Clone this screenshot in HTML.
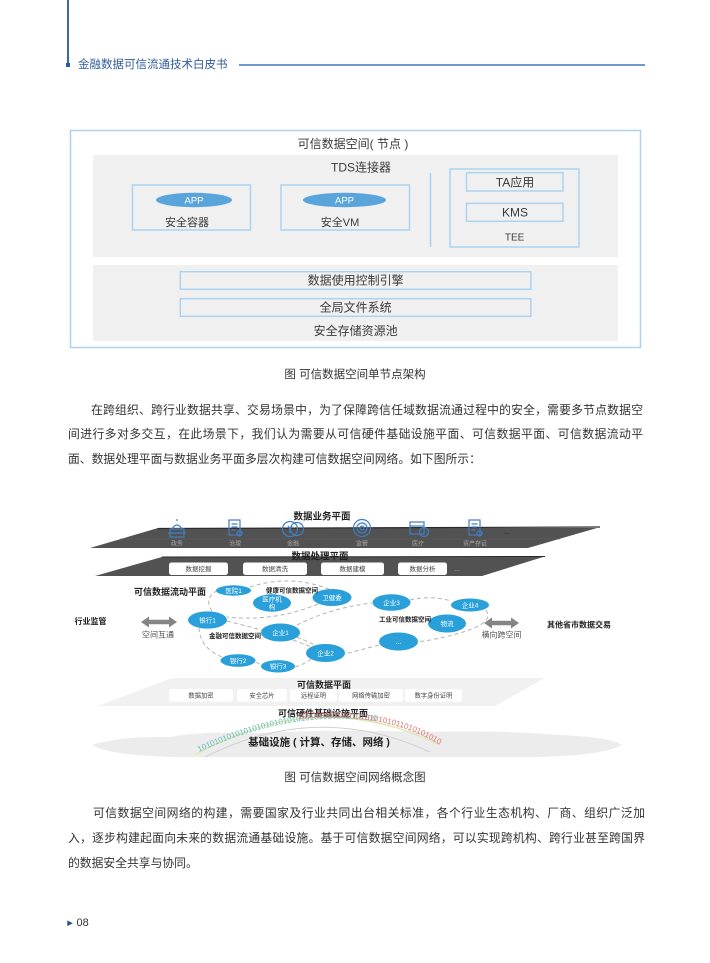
<!DOCTYPE html>
<html><head><meta charset="utf-8"><style>
html,body{margin:0;padding:0;background:#fff;}
body{width:710px;height:963px;position:relative;overflow:hidden;font-family:"Liberation Sans","Noto Sans CJK SC",sans-serif;color:#333;}
.a{position:absolute;white-space:nowrap;}
.ln{position:absolute;height:16px;line-height:16px;font-size:11.8px;color:#333;text-align:justify;text-align-last:justify;white-space:nowrap;}
.cap{position:absolute;left:0;width:710px;text-align:center;font-size:11.5px;line-height:14px;color:#333;}
svg{position:absolute;left:0;top:0;}
</style></head><body>

<!-- header -->
<div class="a" style="left:67px;top:0;width:1.5px;height:64px;background:#3d69a6;"></div>
<div class="a" style="left:65.5px;top:63px;width:4px;height:4px;background:#1f5ea8;"></div>
<div class="a" style="left:78px;top:58px;font-size:11.5px;line-height:14px;color:#2f5c9c;">金融数据可信流通技术白皮书</div>
<div class="a" style="left:239px;top:63.8px;width:406px;height:2px;background:#6c9acb;"></div>

<svg width="710" height="963" viewBox="0 0 710 963" font-family="Liberation Sans, Noto Sans CJK SC, sans-serif">
<!-- ===== top diagram ===== -->
<rect x="70.5" y="130.5" width="570" height="217" fill="#fff" stroke="#abd3ef" stroke-width="1.5"/>
<rect x="93" y="155" width="525" height="102" fill="#f0f0f0"/>
<rect x="93" y="265" width="525" height="76" fill="#f0f0f0"/>
<text x="353" y="148" font-size="12" fill="#3a3a3a" text-anchor="middle">可信数据空间( 节点 )</text>
<text x="361" y="171.5" font-size="12" fill="#3a3a3a" text-anchor="middle">TDS连接器</text>
<rect x="132.5" y="185" width="118" height="45" fill="none" stroke="#abd3ef" stroke-width="1.5"/>
<rect x="281" y="185" width="128.5" height="45" fill="none" stroke="#abd3ef" stroke-width="1.5"/>
<ellipse cx="194" cy="200" rx="38" ry="7.2" fill="#5aa4dc"/>
<ellipse cx="344.5" cy="200" rx="41.5" ry="7.2" fill="#5aa4dc"/>
<text x="194" y="203.6" font-size="9.5" fill="#fff" text-anchor="middle">APP</text>
<text x="344.5" y="203.6" font-size="9.5" fill="#fff" text-anchor="middle">APP</text>
<text x="187" y="225.8" font-size="11" fill="#3a3a3a" text-anchor="middle">安全容器</text>
<text x="340" y="225.8" font-size="11" fill="#3a3a3a" text-anchor="middle">安全VM</text>
<line x1="430.5" y1="173" x2="430.5" y2="247" stroke="#abd3ef" stroke-width="1.5"/>
<rect x="450" y="169" width="129" height="78" fill="none" stroke="#abd3ef" stroke-width="1.5"/>
<rect x="466.5" y="172.7" width="96.5" height="18.3" fill="none" stroke="#abd3ef" stroke-width="1.5"/>
<rect x="466.5" y="203.3" width="96.5" height="18" fill="none" stroke="#abd3ef" stroke-width="1.5"/>
<text x="515" y="186.3" font-size="12" fill="#3a3a3a" text-anchor="middle">TA应用</text>
<text x="515" y="216.6" font-size="12" fill="#3a3a3a" text-anchor="middle">KMS</text>
<text x="514.6" y="240.5" font-size="10" fill="#3a3a3a" text-anchor="middle">TEE</text>
<rect x="180.3" y="271.7" width="350.6" height="17.6" fill="none" stroke="#abd3ef" stroke-width="1.5"/>
<rect x="180.3" y="298.7" width="350.6" height="17.6" fill="none" stroke="#abd3ef" stroke-width="1.5"/>
<text x="355.6" y="284.6" font-size="12" fill="#3a3a3a" text-anchor="middle">数据使用控制引擎</text>
<text x="355.6" y="311.6" font-size="12" fill="#3a3a3a" text-anchor="middle">全局文件系统</text>
<text x="355.6" y="335.2" font-size="12" fill="#3a3a3a" text-anchor="middle">安全存储资源池</text>

<!-- ===== network diagram ===== -->
<!-- business plane -->
<polygon points="90,548 158,528 597,528 528,548" fill="#525252"/>
<line x1="158" y1="528.5" x2="600" y2="527" stroke="#2a2a2a" stroke-width="1.2"/>
<line x1="120" y1="539" x2="560" y2="539" stroke="#5e5e5e" stroke-width="0.6"/>
<text x="322" y="519.3" font-size="9.5" font-weight="bold" fill="#222" text-anchor="middle">数据业务平面</text>
<g fill="none" stroke="#3f7fc2" stroke-width="1.2">
 <path d="M170,537 v-8 h14 v8 z M172,529 q5,-8 10,0 M177,521 v-2"/>
 <path d="M168,533 h18"/>
 <rect x="229" y="520" width="11" height="15"/><path d="M231.5,524 h6 M231.5,527 h6 M231.5,530 h4"/><circle cx="239.5" cy="533.5" r="2.5"/>
 <circle cx="290" cy="529" r="7.5"/><circle cx="297" cy="529" r="6.5"/><path d="M288,526 l2,3 l2,-3 M290,529 v4"/>
 <circle cx="362" cy="528" r="8.5"/><circle cx="362" cy="528" r="5"/><circle cx="362" cy="528" r="2"/>
 <rect x="410" y="522" width="14" height="12"/><path d="M410,526 h14"/><circle cx="424" cy="532" r="4.5"/>
 <rect x="469" y="520" width="11" height="15"/><path d="M471.5,524 h6 M471.5,527 h6 M471.5,530 h4"/><circle cx="479.5" cy="533.5" r="2.5"/>
</g>
<g font-size="6" fill="#a8a8a8" text-anchor="middle">
 <text x="177" y="545.5">政务</text><text x="235" y="545.5">治理</text><text x="293" y="545.5">金融</text>
 <text x="362" y="545.5">监管</text><text x="418" y="545.5">医疗</text><text x="475" y="545.5">资产存证</text>
</g>
<text x="507" y="534" font-size="7" fill="#222" text-anchor="middle">...</text>

<!-- processing plane -->
<polygon points="95,576 162,557 543,557 482,576" fill="#525252"/>
<line x1="162" y1="557" x2="545" y2="556.5" stroke="#2a2a2a" stroke-width="1"/>
<text x="320" y="559.5" font-size="9.5" font-weight="bold" fill="#222" text-anchor="middle">数据处理平面</text>
<g fill="#fff">
 <rect x="169" y="562.5" width="59" height="12.5" rx="2.5"/>
 <rect x="243" y="562.5" width="64" height="12.5" rx="2.5"/>
 <rect x="321" y="562.5" width="63" height="12.5" rx="2.5"/>
 <rect x="398" y="562.5" width="49" height="12.5" rx="2.5"/>
</g>
<g font-size="6.5" fill="#444" text-anchor="middle">
 <text x="198.5" y="571.2">数据挖掘</text><text x="275" y="571.2">数据清洗</text>
 <text x="352.5" y="571.2">数据建模</text><text x="422.5" y="571.2">数据分析</text>
</g>
<text x="457" y="571" font-size="7" fill="#bbb" text-anchor="middle">...</text>

<!-- flow plane -->
<text x="170" y="595" font-size="9" font-weight="bold" fill="#222" text-anchor="middle">可信数据流动平面</text>
<text x="90.5" y="623.8" font-size="8" font-weight="bold" fill="#222" text-anchor="middle">行业监管</text>
<text x="158" y="637.3" font-size="8" fill="#555" text-anchor="middle">空间互通</text>
<text x="501.5" y="637.3" font-size="8" fill="#555" text-anchor="middle">横向跨空间</text>
<text x="579" y="627.3" font-size="8" font-weight="bold" fill="#222" text-anchor="middle">其他省市数据交易</text>
<g fill="#858585">
 <polygon points="141,622 149,616.5 149,619.8 169,619.8 169,616.5 177,622 169,627.5 169,624.2 149,624.2 149,627.5"/>
 <polygon points="484,623 492,617.5 492,620.8 511,620.8 511,617.5 519,623 511,628.5 511,625.2 492,625.2 492,628.5"/>
</g>
<g fill="none" stroke="#b3b3b3" stroke-width="1" stroke-dasharray="4 3">
 <path d="M212,611 Q203,598 218,590"/>
 <path d="M250,587 Q290,574 329,589"/>
 <path d="M318,604 Q275,622 227,617"/>
 <path d="M227,621 L262,630"/>
 <path d="M199,628 Q200,648 222,657"/>
 <path d="M256,662 L261,665"/>
 <path d="M295,667 Q305,664 311,659"/>
 <path d="M293,640 L312,647"/>
 <path d="M297,637 L315,645"/>
 <path d="M297,625 Q330,608 372,603"/>
 <path d="M410,600 Q431,595 451,601"/>
 <path d="M486,610 Q494,622 466,631 Q445,638 418,642"/>
 <path d="M379,645 Q360,650 345,654"/>
</g>
<g fill="#29a0da">
 <ellipse cx="233.5" cy="590.5" rx="17.5" ry="5.2"/>
 <ellipse cx="272" cy="603" rx="19" ry="8.7"/>
 <ellipse cx="332" cy="597.5" rx="19.5" ry="8.5"/>
 <ellipse cx="207.5" cy="620" rx="19.5" ry="8.6"/>
 <ellipse cx="280.5" cy="632.5" rx="19.5" ry="9"/>
 <ellipse cx="325.5" cy="653" rx="19.5" ry="9"/>
 <ellipse cx="238" cy="660.5" rx="17.5" ry="6.3"/>
 <ellipse cx="278" cy="666.3" rx="17" ry="6.2"/>
 <ellipse cx="391.5" cy="602.5" rx="19" ry="8.3"/>
 <ellipse cx="470" cy="605" rx="19" ry="6.5"/>
 <ellipse cx="447" cy="623.5" rx="19" ry="9"/>
 <ellipse cx="398.5" cy="641.5" rx="19.5" ry="9"/>
</g>
<g font-size="6.5" fill="#fff" text-anchor="middle">
 <text x="233.5" y="592.8">医院1</text>
 <text x="272" y="601.5">医疗机</text><text x="272" y="609">构</text>
 <text x="332" y="599.8">卫健委</text>
 <text x="207.5" y="622.3">银行1</text>
 <text x="280.5" y="634.8">企业1</text>
 <text x="325.5" y="655.3">企业2</text>
 <text x="238" y="662.8">银行2</text>
 <text x="278" y="668.6">银行3</text>
 <text x="391.5" y="604.8">企业3</text>
 <text x="470" y="607.3">企业4</text>
 <text x="447" y="625.8">物流</text>
 <text x="398.5" y="643.8">…</text>
</g>
<g font-size="6.5" font-weight="bold" fill="#222" text-anchor="middle">
 <text x="292" y="592.3">健康可信数据空间</text>
 <text x="235" y="638">金融可信数据空间</text>
 <text x="405" y="621.6">工业可信数据空间</text>
</g>

<!-- data plane -->
<polygon points="98,706 172,678 545,678 495,706" fill="#f1f1f1"/>
<text x="324" y="687.8" font-size="9" font-weight="bold" fill="#222" text-anchor="middle">可信数据平面</text>
<g fill="#fff">
 <rect x="169" y="689" width="64" height="12.7" rx="2.5"/>
 <rect x="237" y="689" width="50" height="12.7" rx="2.5"/>
 <rect x="290" y="689" width="47" height="12.7" rx="2.5"/>
 <rect x="339" y="689" width="64" height="12.7" rx="2.5"/>
 <rect x="405" y="689" width="57" height="12.7" rx="2.5"/>
</g>
<g font-size="6.3" fill="#444" text-anchor="middle">
 <text x="201" y="697.6">数据加密</text><text x="262" y="697.6">安全芯片</text>
 <text x="313.5" y="697.6">远程证明</text><text x="371" y="697.6">网络传输加密</text>
 <text x="433.5" y="697.6">数字身份证明</text>
</g>
<text x="323" y="716.6" font-size="9" font-weight="bold" fill="#222" text-anchor="middle">可信硬件基础设施平面</text>

<!-- base cloud -->
<path d="M92,745 Q120,736 170,737 Q200,731 260,733 Q330,729 420,732 Q500,730 560,735 Q610,737 622,745 Q600,757 520,757 L180,757 Q110,756 92,745 Z" fill="#ececec"/>
<path d="M195,755 Q318,685 440,745" fill="none" stroke="#dfe9b0" stroke-width="1.5"/>
<path d="M205,757 Q318,700 430,752" fill="none" stroke="#d0d0d0" stroke-width="1"/>
<path id="arcT" d="M199,752 Q300,705 392,724" fill="none"/>
<path id="arcR" d="M298,719 Q385,711 440,745" fill="none"/>
<text font-size="8" fill="#5fbcbc"><textPath href="#arcT">10101010101010101010101010101010101010100</textPath></text>
<text font-size="8" fill="#e07272"><textPath href="#arcR">10101010101010101010101101010101001</textPath></text>
<text x="319" y="745.5" font-size="10.5" font-weight="bold" fill="#222" text-anchor="middle">基础设施 ( 计算、存储、网络 )</text>

<polygon points="67.3,920.5 72.8,923.3 67.3,926.1" fill="#1f4e8c"/>
</svg>

<div class="cap" style="top:368px;">图 可信数据空间单节点架构</div>
<div class="ln" style="left:91px;width:552px;top:402px;">在跨组织、跨行业数据共享、交易场景中，为了保障跨信任域数据流通过程中的安全，需要多节点数据空</div>
<div class="ln" style="left:68px;width:575px;top:426px;">间进行多对多交互，在此场景下，我们认为需要从可信硬件基础设施平面、可信数据平面、可信数据流动平</div>
<div class="a" style="left:68px;top:451px;height:16px;line-height:16px;font-size:11.8px;color:#333;">面、数据处理平面与数据业务平面多层次构建可信数据空间网络。如下图所示：</div>

<div class="cap" style="top:771px;">图 可信数据空间网络概念图</div>
<div class="ln" style="left:93px;width:552px;top:805px;">可信数据空间网络的构建，需要国家及行业共同出台相关标准，各个行业生态机构、厂商、组织广泛加</div>
<div class="ln" style="left:68px;width:577px;top:830px;">入，逐步构建起面向未来的数据流通基础设施。基于可信数据空间网络，可以实现跨机构、跨行业甚至跨国界</div>
<div class="a" style="left:68px;top:854.5px;height:16px;line-height:16px;font-size:11.8px;color:#333;">的数据安全共享与协同。</div>

<div class="a" style="left:76.5px;top:916px;font-size:11px;line-height:14px;color:#333;">08</div>
</body></html>
